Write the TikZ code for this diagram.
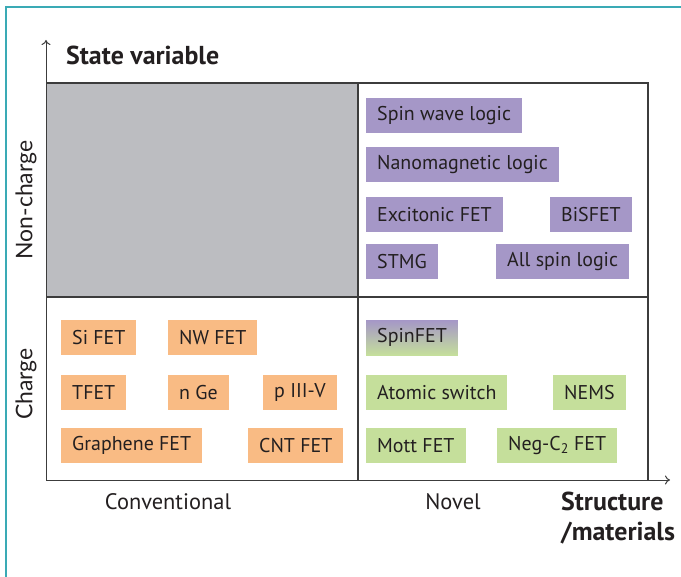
\documentclass[tikz,border=0pt]{standalone}
\usepackage{fontspec}
\setmainfont{PT Sans}
\newfontfamily\axisfont{Lato}
\usetikzlibrary{arrows.meta, positioning}
\definecolor{framecyan}{RGB}{58, 170, 181}
\definecolor{gridgray}{RGB}{60, 60, 60}
\definecolor{shadegray}{RGB}{188, 189, 193}
\definecolor{convorange}{RGB}{249, 187, 132}
\definecolor{spinpurple}{RGB}{165, 151, 199}
\definecolor{novelgreen}{RGB}{197, 223, 155}
\definecolor{textdark}{RGB}{35, 31, 32}

\begin{document}
\begin{tikzpicture}[
    x=1bp, y=-1bp,
    box/.style={
        anchor=north west, inner xsep=11bp, inner ysep=0pt,
        minimum height=35bp, text=textdark,
        font=\fontsize{20}{24}\selectfont
    },
    convbox/.style={box, fill=convorange},
    spinbox/.style={box, fill=spinpurple},
    novelbox/.style={box, fill=novelgreen},
    mixbox/.style={box, top color=spinpurple, bottom color=novelgreen},
    axis/.style={-{To[length=5bp, width=9bp]}, gridgray, line width=1bp},
    gridline/.style={gridgray, line width=1.2bp},
    sidelabel/.style={font=\axisfont\fontsize{23}{26}\selectfont, text=textdark, rotate=90, inner sep=0pt},
    catlabel/.style={font=\fontsize{22.5}{26}\selectfont, text=textdark, inner sep=0pt},
    titlelabel/.style={font=\bfseries\fontsize{26}{30}\selectfont, text=textdark, align=left, inner sep=0pt}
]
\useasboundingbox (0,0) rectangle (681,577);

% Outer frame (top and left only)
\draw[framecyan, line width=1.5bp] (6,577) -- (6,7) -- (681,7);

% Quadrants
\fill[shadegray] (46,83) rectangle (358,297);
\draw[gridline] (46,83) -- (648,83) -- (648,480);
\draw[gridline] (358,83) -- (358,480);
\draw[gridline] (46,297) -- (648,297);

% Axes
\coordinate (origin) at (46,480);
\coordinate (ytip) at (46,40);
\coordinate (xtip) at (670,480);
\draw[axis] (origin) -- (ytip);
\draw[axis] (origin) -- (xtip);

% Axis titles
\node[titlelabel, anchor=west] (stateaxis) at (66,55) {State variable};
\node[titlelabel, anchor=west] (structaxis) at (561,518) {Structure\\/materials};
\node[sidelabel] (noncharge) at (26,200) {Non-charge};
\node[sidelabel] (charge) at (26,384) {Charge};
\node[catlabel] (conventional) at (168,502) {Conventional};
\node[catlabel] (novel) at (453,502) {Novel};

% Non-charge, novel
\node[spinbox] (spinwave) at (366,98) {Spin wave logic};
\node[spinbox] (nanomag) at (366,147) {Nanomagnetic logic};
\node[spinbox] (excitonic) at (366,197) {Excitonic FET};
\node[spinbox] (bisfet) at (550,197) {BiSFET};
\node[spinbox] (stmg) at (366,244) {STMG};
\node[spinbox] (allspin) at (496,244) {All spin logic};

% Charge, conventional
\node[convbox] (sifet) at (61,320) {Si FET};
\node[convbox] (nwfet) at (168,320) {NW FET};
\node[convbox] (tfet) at (61,375) {TFET};
\node[convbox] (nge) at (168,375) {n Ge};
\node[convbox] (piiiv) at (263,375) {p III-V};
\node[convbox] (graphene) at (61,428) {Graphene FET};
\node[convbox] (cntfet) at (248,428) {CNT FET};

% Charge, novel
\node[mixbox] (spinfet) at (366,320) {SpinFET};
\node[novelbox] (atomic) at (366,375) {Atomic switch};
\node[novelbox] (nems) at (553,375) {NEMS};
\node[novelbox] (mottfet) at (366,428) {Mott FET};
\node[novelbox] (negcfet) at (497,428) {Neg-C\textsubscript{2} FET};

\end{tikzpicture}
\end{document}
